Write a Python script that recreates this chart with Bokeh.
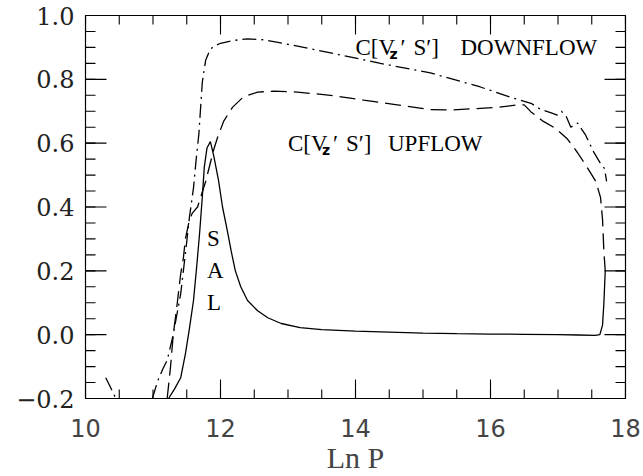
import numpy as np
from bokeh.plotting import figure
from bokeh.models import ColumnDataSource, FixedTicker, Range1d
from bokeh.core.properties import value
from bokeh.embed import file_html
from bokeh.resources import INLINE

nan = np.nan

# Correlation of vertical velocity and entropy fluctuations versus ln P
# Solid: total correlation (peaks in the superadiabatic layer)
lnp_total = [11.23, 11.32, 11.41, 11.48, 11.54, 11.60, 11.65, 11.69, 11.73, 11.76,
             11.80, 11.85, 11.90, 11.97, 12.03, 12.10, 12.16, 12.22, 12.30, 12.40,
             12.55, 12.70, 12.90, 13.18, 13.50, 14.00, 14.50, 15.00, 15.50, 16.00,
             16.50, 17.00, 17.30, 17.55, 17.62, 17.66, 17.68, 17.70]
corr_total = [-0.200, -0.170, -0.135, -0.060, 0.020, 0.107, 0.220, 0.317, 0.430, 0.525,
              0.585, 0.605, 0.560, 0.484, 0.400, 0.327, 0.260, 0.200, 0.150, 0.107,
              0.075, 0.053, 0.035, 0.022, 0.016, 0.011, 0.008, 0.005, 0.003, 0.002,
              0.001, 0.000, -0.001, -0.002, 0.000, 0.030, 0.100, 0.200]

# Dashed: upflow
lnp_up = [11.21, 11.26, 11.30, 11.36, 11.41, 11.45, 11.48, 11.53, 11.58, 11.62,
          11.66, 11.72, 11.78, 11.84, 11.90, 11.96, 12.05, 12.18, 12.34, 12.55,
          12.79, 13.14, 13.63, 14.12, 14.62, 15.11, 15.45, 15.75, 16.10, 16.40,
          16.50, 16.60, 16.77, 16.96, 17.14, 17.29, 17.43, 17.56, 17.63, 17.66,
          17.68, 17.70]
corr_up = [-0.200, -0.100, 0.000, 0.100, 0.190, 0.240, 0.300, 0.350, 0.380, 0.390,
           0.400, 0.440, 0.480, 0.530, 0.580, 0.620, 0.670, 0.713, 0.745, 0.760,
           0.763, 0.760, 0.750, 0.735, 0.720, 0.705, 0.704, 0.708, 0.712, 0.720,
           0.720, 0.698, 0.670, 0.647, 0.613, 0.570, 0.525, 0.480, 0.430, 0.360,
           0.260, 0.200]

# Dash-dot: downflow (NaN splits the piece that leaves the plotted range)
lnp_down = [10.30, 10.37, 10.45, nan, 10.99, 11.07, 11.14, 11.21, 11.30, 11.36,
            11.41, 11.48, 11.54, 11.60, 11.64, 11.68, 11.73, 11.78, 11.85, 11.92,
            12.00, 12.20, 12.40, 12.64, 13.04, 13.63, 14.37, 15.11, 15.85, 16.34,
            16.60, 16.74, 16.90, 16.99, 17.05, 17.12, 17.19, 17.29, 17.33, 17.41,
            17.53, 17.62, 17.69, 17.72]
corr_down = [-0.135, -0.165, -0.200, nan, -0.200, -0.145, -0.110, -0.080, 0.000, 0.070,
             0.128, 0.254, 0.368, 0.460, 0.550, 0.630, 0.790, 0.860, 0.895, 0.905,
             0.913, 0.922, 0.927, 0.924, 0.908, 0.883, 0.850, 0.820, 0.776, 0.741,
             0.725, 0.706, 0.695, 0.688, 0.700, 0.685, 0.650, 0.663, 0.650, 0.625,
             0.572, 0.540, 0.520, 0.480]

X_MIN, X_MAX = 10, 18
Y_MIN, Y_MAX = -0.2, 1.0
x_major = [10, 12, 14, 16, 18]
x_minor = [10 + 0.5 * i for i in range(17)]
y_major = [-0.2, 0.0, 0.2, 0.4, 0.6, 0.8, 1.0]
y_minor = [round(-0.2 + 0.05 * i, 2) for i in range(25)]
y_labels = {v: f"{v:.1f}".replace("-", "\u2212") for v in y_major}

p = figure(width=643, height=476, output_backend="svg", toolbar_location=None,
           x_range=Range1d(X_MIN, X_MAX), y_range=Range1d(Y_MIN, Y_MAX),
           min_border_left=85, min_border_right=18, min_border_top=15,
           min_border_bottom=78, background_fill_color="white",
           border_fill_color="white", outline_line_color="black",
           outline_line_width=1.2)
p.xgrid.visible = False
p.ygrid.visible = False


def bare_ticks(ax):
    # axis numbers only; the tick marks themselves are drawn as rays
    for k in ("major_tick_in", "major_tick_out", "minor_tick_in", "minor_tick_out"):
        setattr(ax, k, 0)
    ax.major_tick_line_color = None
    ax.minor_tick_line_color = None
    ax.axis_line_color = "black"


xa = p.xaxis[0]
xa.ticker = FixedTicker(ticks=x_major, minor_ticks=x_minor)
bare_ticks(xa)
xa.major_label_text_font = "DejaVu Sans"
xa.major_label_text_font_size = "24px"
xa.major_label_text_color = "#444444"
xa.major_label_standoff = 20
xa.axis_label = "Ln P"
xa.axis_label_text_font = "Liberation Serif"
xa.axis_label_text_font_size = "30px"
xa.axis_label_text_font_style = "normal"
xa.axis_label_standoff = 1

ya = p.yaxis[0]
ya.ticker = FixedTicker(ticks=y_major, minor_ticks=y_minor)
bare_ticks(ya)
ya.major_label_overrides = y_labels
ya.major_label_text_font = "DejaVu Serif"
ya.major_label_text_font_size = "24px"
ya.major_label_text_color = "#222222"
ya.major_label_standoff = 11

# Inward-pointing tick marks on all four sides of the frame
tick = dict(line_color="black", line_width=1.1, length_units="screen",
            angle_units="deg")
p.ray(x=x_major, y=[Y_MIN] * len(x_major), length=19, angle=90, **tick)
p.ray(x=x_minor, y=[Y_MIN] * len(x_minor), length=9, angle=90, **tick)
p.ray(x=x_major, y=[Y_MAX] * len(x_major), length=19, angle=-90, **tick)
p.ray(x=x_minor, y=[Y_MAX] * len(x_minor), length=9, angle=-90, **tick)
p.ray(x=[X_MIN] * len(y_major), y=y_major, length=21, angle=0, **tick)
p.ray(x=[X_MIN] * len(y_minor), y=y_minor, length=10, angle=0, **tick)
p.ray(x=[X_MAX] * len(y_major), y=y_major, length=21, angle=180, **tick)
p.ray(x=[X_MAX] * len(y_minor), y=y_minor, length=10, angle=180, **tick)

p.line(lnp_total, corr_total, line_color="black", line_width=1.3)
p.line(lnp_up, corr_up, line_color="black", line_width=1.3, line_dash="16 7")
p.line(lnp_down, corr_down, line_color="black", line_width=1.3, line_dash="14 5 2 5")

serif = value("Liberation Serif")

# Curve labels, each built from the main text, a subscript z and the rest
lab_x = [14.0, 13.0]
lab_y = [0.9, 0.6]
lab_tail = ["DOWNFLOW", "UPFLOW"]
lab_tail_off = [105, 100]
src = ColumnDataSource(dict(x=lab_x, y=lab_y, tail=lab_tail, off=lab_tail_off))
common = dict(source=src, text_baseline="alphabetic", text_align="left")
p.text(x="x", y="y", text=value("C[V"), text_font=serif, text_font_size="23px",
       **common)
p.text(x="x", y="y", text=value("z"), text_font=value("DejaVu Sans"),
       text_font_style="bold", text_font_size="14px", x_offset=34, y_offset=7,
       **common)
p.text(x="x", y="y", text=value("\u2032"), text_font=serif, text_font_size="23px",
       x_offset=45, **common)
p.text(x="x", y="y", text=value("S\u2032]"), text_font=serif, text_font_size="23px",
       x_offset=58, **common)
p.text(x="x", y="y", text="tail", text_font=serif, text_font_size="23px",
       x_offset="off", **common)

# Superadiabatic layer marker
sal_letters = ["S", "A", "L"]
sal_y = [0.3, 0.2, 0.1]
p.text(x=[11.8] * 3, y=sal_y, text=sal_letters, text_font=serif,
       text_font_size="23px", text_baseline="alphabetic", text_align="left")

open("out.html", "w").write(file_html(p, INLINE))
